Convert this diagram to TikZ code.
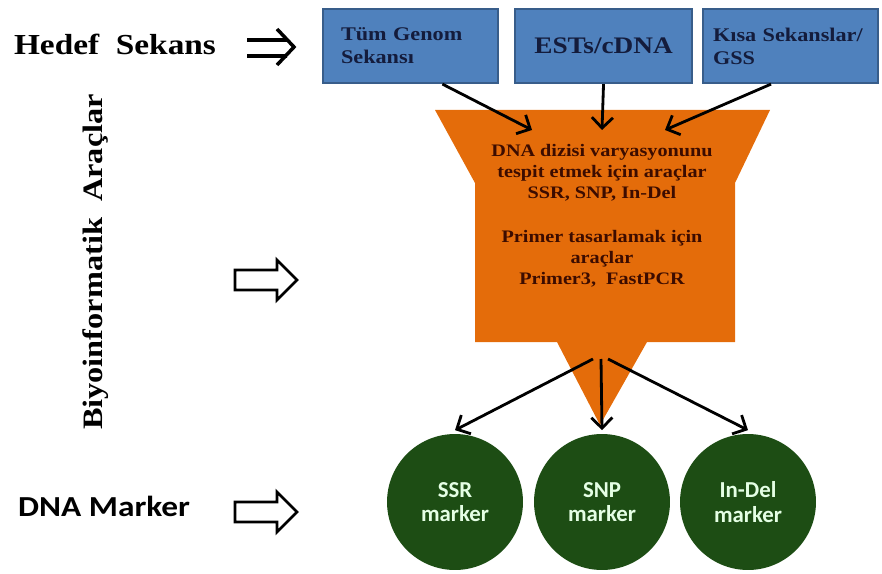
\documentclass[tikz,border=0pt]{standalone}
\usepackage{fontspec}
\setmainfont{Liberation Serif}[FakeStretch=1.15]
\newfontfamily\calibri{Carlito}
\newfontfamily\calibriwide{Carlito}[FakeStretch=1.15]
\usetikzlibrary{arrows.meta,calc}

\definecolor{boxblue}{HTML}{4F81BD}
\definecolor{boxedge}{HTML}{385D8A}
\definecolor{funnelorange}{HTML}{E46C0A}
\definecolor{markgreen}{HTML}{1D4D14}
\definecolor{navytext}{HTML}{141C3C}
\definecolor{browntext}{HTML}{3C0C00}

\tikzset{
  seqbox/.style={draw=boxedge, line width=1.2pt, fill=boxblue, anchor=north west,
    minimum height=1.48cm, inner ysep=0pt, text=navytext,
    font=\bfseries\fontsize{11}{13}\selectfont},
  mkcircle/.style={circle, fill=markgreen, minimum size=2.72cm, inner sep=0pt,
    align=center, text=white!90!green, font=\calibri\bfseries\fontsize{13}{14}\selectfont},
  flow/.style={line width=1.6pt, -{Straight Barb[length=6pt,width=12pt]}},
  blockarr/.style={line width=1.6pt, line join=miter}
}
\newcommand{\blockarrow}[1]{\draw[blockarr] (#1) ++(-31,-10) -- ++(42,0) -- ++(0,-10)
  -- ++(20,20) -- ++(-20,20) -- ++(0,-10) -- ++(-42,0) -- cycle;}

\begin{document}
\begin{tikzpicture}[x=0.02cm,y=-0.02cm]
\useasboundingbox (0,0) rectangle (882,574);

\node[font=\bfseries\fontsize{16.5}{18}\selectfont] (target) at (115,44) {Hedef\ \ Sekans};
\node[rotate=90, font=\bfseries\fontsize{16}{18}\selectfont] (bioinfo) at (96,262) {Biyoinformatik\ \ Araçlar};
\node[anchor=west, font=\calibriwide\bfseries\fontsize{16.5}{18}\selectfont] (dnamk) at (12,506) {DNA Marker};

\draw[line width=2pt] (247,40) -- (287,40) (247,56) -- (287,56) (277,29) -- (294,47) -- (277,65);
\blockarrow{266,280}
\blockarrow{266,512}

\node[seqbox, text width=2.78cm, inner xsep=0.36cm, align=left] (genome) at (322,8) {Tüm Genom\\Sekansı};
\node[seqbox, minimum width=3.54cm, font=\bfseries\fontsize{13.5}{15}\selectfont] (est) at (514,8) {ESTs/cDNA};
\node[seqbox, text width=3.1cm, inner xsep=0.2cm, align=left] (gss) at (702,8) {Kısa Sekanslar/\\GSS};

\fill[funnelorange] (435,110) -- (770,110) -- (735,183) -- (735,342) -- (647,342) -- (600,425)
  -- (557,342) -- (475,342) -- (475,183) -- cycle;
\node[align=center, text=browntext, font=\bfseries\fontsize{10}{12}\selectfont] (tools) at (602,216)
  {DNA dizisi varyasyonunu\\tespit etmek için araçlar\\SSR, SNP, In-Del\\[13pt]Primer tasarlamak için\\araçlar\\Primer3,\ \ FastPCR};

\coordinate (in1) at (532,130);
\coordinate (in2) at (602,130);
\coordinate (in3) at (665,130);
\coordinate (out1) at (593,359);
\coordinate (out2) at (601,359);
\coordinate (out3) at (608,359);

\node[mkcircle] (ssr) at (455,502) {SSR\\marker};
\node[mkcircle] (snp) at (602,502) {SNP\\marker};
\node[mkcircle] (indel) at (748,502) {In-Del\\marker};

\draw[flow] ($(genome.south west)!0.68!(genome.south east)$) -- (in1);
\draw[flow] (est.south) -- (in2);
\draw[flow] ($(gss.south west)!0.39!(gss.south east)$) -- (in3);
\draw[flow] (out1) -- ([yshift=2pt]ssr.north);
\draw[flow] (out2) -- ([yshift=2pt]snp.north);
\draw[flow] (out3) -- ([yshift=2pt]indel.north);
\end{tikzpicture}
\end{document}
